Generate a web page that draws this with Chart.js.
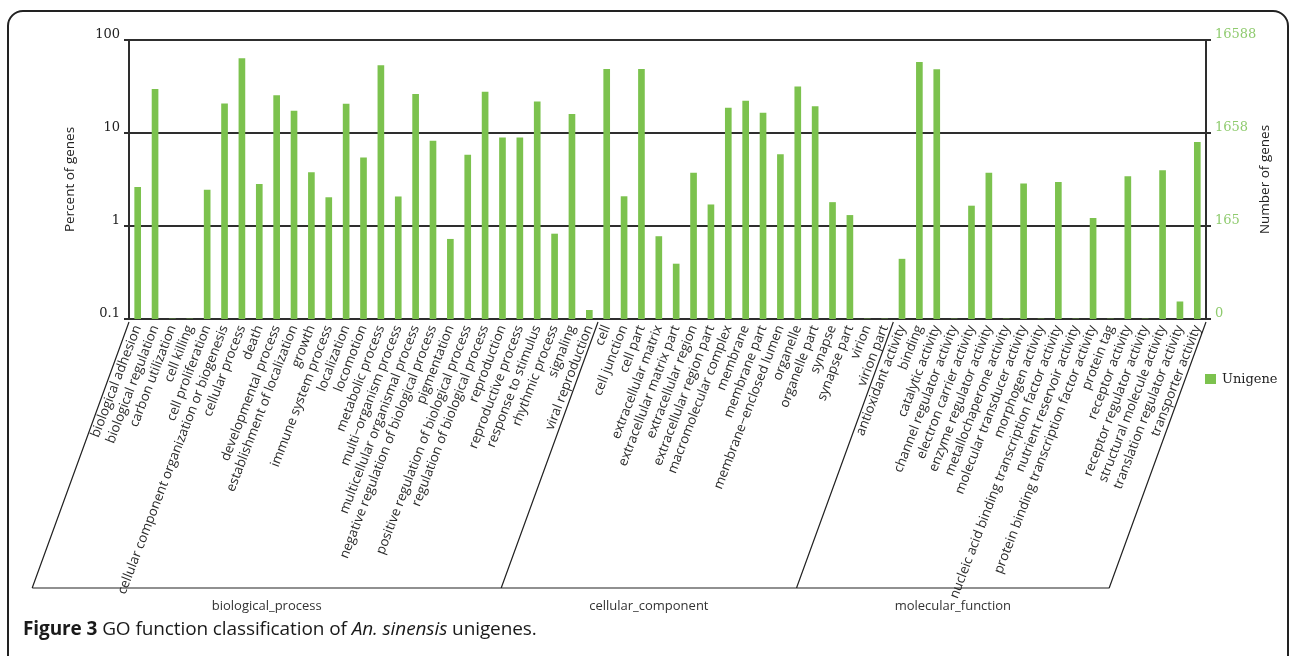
<!DOCTYPE html>
<html>
<head>
<meta charset="utf-8">
<script src="https://cdn.jsdelivr.net/npm/chart.js@4"></script>
<style>
  html, body { margin: 0; padding: 0; background: #fff; }
  body { width: 1292px; height: 656px; position: relative; overflow: hidden; }
  #frame {
    position: absolute; left: 7px; top: 10px; width: 1282px; height: 720px;
    border: 2px solid #222; border-radius: 16px; box-sizing: border-box;
  }
  #wrap { position: absolute; left: 0; top: 0; width: 1292px; height: 656px; }
  #caption {
    position: absolute; left: 23px; top: 615px;
    font-family: "Open Sans", sans-serif; font-size: 19px; color: #1a1a1a;
    white-space: nowrap; letter-spacing: -0.1px;
  }
  #caption b { font-weight: 700; }
</style>
</head>
<body>
<div id="frame"></div>
<div id="wrap"><canvas id="go"></canvas></div>
<div id="caption"><b>Figure 3</b> GO function classification of <i>An. sinensis</i> unigenes.</div>
<script>
// GO terms, grouped by ontology
const bpTerms = [
  'biological adhesion', 'biological regulation', 'carbon utilization', 'cell killing',
  'cell proliferation', 'cellular component organization or biogenesis', 'cellular process',
  'death', 'developmental process', 'establishment of localization', 'growth',
  'immune system process', 'localization', 'locomotion', 'metabolic process',
  'multi\u2212organism process', 'multicellular organismal process',
  'negative regulation of biological process', 'pigmentation',
  'positive regulation of biological process', 'regulation of biological process',
  'reproduction', 'reproductive process', 'response to stimulus', 'rhythmic process',
  'signaling', 'viral reproduction'
];
const ccTerms = [
  'cell', 'cell junction', 'cell part', 'extracellular matrix', 'extracellular matrix part',
  'extracellular region', 'extracellular region part', 'macromolecular complex', 'membrane',
  'membrane part', 'membrane\u2212enclosed lumen', 'organelle', 'organelle part', 'synapse',
  'synapse part', 'virion', 'virion part'
];
const mfTerms = [
  'antioxidant activity', 'binding', 'catalytic activity', 'channel regulator activity',
  'electron carrier activity', 'enzyme regulator activity', 'metallochaperone activity',
  'molecular transducer activity', 'morphogen activity',
  'nucleic acid binding transcription factor activity', 'nutrient reservoir activity',
  'protein binding transcription factor activity', 'protein tag', 'receptor activity',
  'receptor regulator activity', 'structural molecule activity',
  'translation regulator activity', 'transporter activity'
];

// Percent of unigenes annotated to each term
const bpPercent = [2.6, 29.5, 0, 0, 2.43, 20.6, 63, 2.8, 25.2, 17.2, 3.75, 2.02, 20.5, 5.4,
  53, 2.06, 26, 8.2, 0.72, 5.8, 27.6, 8.9, 8.9, 21.7, 0.82, 15.9, 0.124];
const ccPercent = [48.5, 2.07, 48.5, 0.77, 0.39, 3.7, 1.69, 18.5, 22, 16.4, 5.85, 31.4, 19.2,
  1.79, 1.3, 0, 0];
const mfPercent = [0.44, 57.5, 48.2, 0, 1.64, 3.7, 0, 2.84, 0, 2.95, 0, 1.21, 0, 3.4, 0, 3.95,
  0.153, 7.95];

const groupNames = ['biological_process', 'cellular_component', 'molecular_function'];
const groupSizes = [bpTerms.length, ccTerms.length, mfTerms.length];

// Axis ticks: percent on the left, matching gene counts on the right
const percentTicks = [0.1, 1, 10, 100];
const percentLabels = ['0.1', '1', '10', '100'];
const geneLabels = ['0', '165', '1658', '16588'];

const seriesName = 'Unigene';
const barColor = '#7cc24e';
const geneColor = '#8fcb6e';
const lineColor = '#2e2e2e';

const categories = bpTerms.concat(ccTerms, mfTerms);
const values = bpPercent.concat(ccPercent, mfPercent);

const canvas = document.getElementById('go');
canvas.width = 1292; canvas.height = 656;

function fixedTicks(scale) {
  scale.ticks = percentTicks.map(v => ({ value: v }));
}

// Ontology brackets under the category labels, plus axis titles and legend
const decorations = {
  id: 'decorations',
  afterDraw(chart) {
    const ctx = chart.ctx;
    const area = chart.chartArea;
    const xs = chart.scales.x;
    const baseY = 588;
    const slope = 0.364;
    const startY = area.bottom + 3;
    const n = categories.length;
    const bx = i => {
      if (i === 0) return area.left;
      if (i === n) return area.right;
      return (xs.getPixelForValue(i - 1) + xs.getPixelForValue(i)) / 2;
    };
    const shift = (baseY - startY) * slope;
    const bounds = [0];
    groupSizes.forEach(s => bounds.push(bounds[bounds.length - 1] + s));

    ctx.save();
    ctx.strokeStyle = '#222';
    ctx.lineWidth = 1.2;
    ctx.beginPath();
    bounds.forEach(b => {
      const x = bx(b);
      ctx.moveTo(x, startY);
      ctx.lineTo(x - shift, baseY);
    });
    ctx.moveTo(bx(0) - shift, baseY);
    ctx.lineTo(bx(n) - shift, baseY);
    ctx.stroke();

    ctx.fillStyle = '#333';
    ctx.font = '13px "Open Sans", sans-serif';
    ctx.textAlign = 'center';
    ctx.textBaseline = 'middle';
    groupNames.forEach((name, g) => {
      const cx = (bx(bounds[g]) + bx(bounds[g + 1])) / 2 - shift;
      ctx.fillText(name, cx, 606);
    });

    // axis titles, both reading bottom to top
    ctx.font = '13.5px "Open Sans", sans-serif';
    ctx.fillStyle = '#222';
    const midY = (area.top + area.bottom) / 2;
    [['Percent of genes', 70], ['Number of genes', 1265]].forEach(([t, x]) => {
      ctx.save();
      ctx.translate(x, midY);
      ctx.rotate(-Math.PI / 2);
      ctx.fillText(t, 0, 0);
      ctx.restore();
    });

    // legend entry
    const ds = chart.data.datasets[0];
    ctx.fillStyle = ds.backgroundColor;
    ctx.fillRect(1205, 374, 11, 10);
    ctx.fillStyle = '#222';
    ctx.font = '13px "DejaVu Serif", serif';
    ctx.textAlign = 'left';
    ctx.fillText(ds.label, 1222, 379.5);
    ctx.restore();
  }
};

new Chart(canvas, {
  type: 'bar',
  data: {
    labels: categories,
    datasets: [{
      label: seriesName,
      data: values,
      backgroundColor: barColor,
      borderWidth: 0,
      barThickness: 6,
      yAxisID: 'y'
    }]
  },
  options: {
    responsive: false,
    animation: false,
    events: [],
    layout: { padding: { top: 40, left: 0, right: 0, bottom: 0 } },
    plugins: { legend: { display: false }, tooltip: { enabled: false } },
    scales: {
      x: {
        offset: true,
        grid: { display: false, drawTicks: false },
        border: { display: false },
        afterFit: s => { s.height = 337; },
        ticks: {
          autoSkip: false,
          minRotation: 69,
          maxRotation: 69,
          padding: 4,
          color: '#2a2a2a',
          font: { family: 'Open Sans', size: 13.3 }
        }
      },
      y: {
        type: 'logarithmic',
        position: 'left',
        min: 0.1,
        max: 100,
        afterBuildTicks: fixedTicks,
        afterFit: s => { s.width = 129; },
        grid: { color: lineColor, lineWidth: 2, tickLength: 5 },
        border: { color: lineColor, width: 2 },
        ticks: {
          callback: v => percentLabels[percentTicks.indexOf(v)],
          color: '#222',
          padding: 4,
          labelOffset: -5,
          font: { family: 'DejaVu Serif', size: 13 }
        }
      },
      y2: {
        type: 'logarithmic',
        position: 'right',
        min: 0.1,
        max: 100,
        afterBuildTicks: fixedTicks,
        afterFit: s => { s.width = 86; },
        grid: { drawOnChartArea: false, color: lineColor, lineWidth: 2, tickLength: 5 },
        border: { color: lineColor, width: 2 },
        ticks: {
          callback: v => geneLabels[percentTicks.indexOf(v)],
          color: geneColor,
          padding: 4,
          labelOffset: -5,
          font: { family: 'DejaVu Serif', size: 13 }
        }
      }
    }
  },
  plugins: [decorations]
});
</script>
</body>
</html>
